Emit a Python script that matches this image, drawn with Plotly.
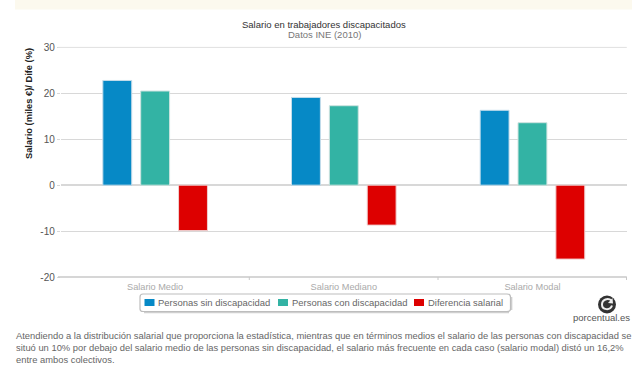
import plotly.graph_objects as go

categories = ["Salario Medio", "Salario Mediano", "Salario Modal"]
sin_discapacidad = [22.8, 19.1, 16.3]
con_discapacidad = [20.5, 17.3, 13.6]
diferencia = [-9.9, -8.7, -16.1]
y_ticks = [-20, -10, 0, 10, 20, 30]
y_tick_labels = ["-20", "-10", "0", "10", "20", "30"]
series_names = ["Personas sin discapacidad", "Personas con discapacidad", "Diferencia salarial"]
series_colors = ["#0689c6", "#33b3a4", "#dd0000"]
series_edges = ["#c4dcea", "#cde3df", "#f0cfcf"]

W, H = 640, 385
L, R, T, B = 60.8, 626.8, 47.4, 277
px = lambda v: v / W
py = lambda v: 1 - v / H
P = lambda x, y: f"{px(x)} {py(y)}"

fig = go.Figure()
for name, vals, col, edge in zip(series_names, [sin_discapacidad, con_discapacidad, diferencia],
                                 series_colors, series_edges):
    fig.add_bar(name=name, x=categories, y=vals, marker=dict(color=col, line=dict(color=edge, width=1)))

ann = []
def t(x, y, s, size=9, color="#555", xa="left", ya="middle", **k):
    ann.append(dict(x=px(x), y=py(y), xref="paper", yref="paper", text=s, showarrow=False,
                    xanchor=xa, yanchor=ya, font=dict(size=size, color=color), **k))

t(324, 24.5, "Salario en trabajadores discapacitados", 9.5, "#333", "center")
t(324, 34.5, "Datos INE (2010)", 9.5, "#777", "center")
t(29, 104, "<b>Salario (miles €)/ Dife (%)</b>", 9.3, "#222", "center", textangle=-90)
t(14, 335, "Atendiendo a la distribución salarial que proporciona la estadística, mientras que en términos medios el salario de las personas con discapacidad se", 9.4, "#666")
t(14, 347.5, "situó un 10% por debajo del salario medio de las personas sin discapacidad, el salario más frecuente en cada caso (salario modal) distó un 16,2%", 9.4, "#666")
t(14, 359.5, "entre ambos colectivos.", 9.4, "#666")
t(632, 317.5, "porcentual.es", 9.5, "#555", "right")

swatch_x = [144.5, 278, 414]
text_x = [156, 289.5, 425.5]
for n, tx in zip(series_names, text_x):
    t(tx, 302.5, n, 9.45, "#666")

shapes = [
    dict(type="rect", xref="paper", yref="paper", x0=px(15), x1=px(632), y0=py(0), y1=py(9.5),
         fillcolor="#fcf9ee", line_width=0, layer="below"),
    dict(type="line", xref="paper", yref="paper", x0=px(58), x1=px(R), y0=py(T), y1=py(T),
         line=dict(color="#e0e0e0", width=1)),
    dict(type="line", xref="paper", yref="paper", x0=px(144), x1=px(509), y0=py(312.6), y1=py(312.6),
         line=dict(color="#cfcfcf", width=1.5)),
    dict(type="line", xref="paper", yref="paper", x0=px(511.6), x1=px(511.6), y0=py(297), y1=py(310),
         line=dict(color="#cfcfcf", width=1.5)),
    dict(type="path", xref="paper", yref="paper",
         path=f"M {P(143,294)} H {px(507)} Q {P(510.5,294)} {P(510.5,297)} V {py(309)} Q {P(510.5,311.5)} {P(507,311.5)} H {px(143)} Q {P(140,311.5)} {P(140,309)} V {py(297)} Q {P(140,294)} {P(143,294)} Z",
         fillcolor="#ffffff", line=dict(color="#bdbdbd", width=1.2), layer="above"),
    dict(type="line", xref="paper", yref="paper", x0=px(58), x1=px(R), y0=py(B), y1=py(B),
         line=dict(color="#c8c8c8", width=1.5)),
    dict(type="circle", xref="paper", yref="paper", x0=px(598), x1=px(616), y0=py(295.5), y1=py(313.5),
         fillcolor="#333333", line_width=0),
    dict(type="path", xref="paper", yref="paper",
         path=f"M {P(611.5,300.5)} C {P(608,297.5)} {P(602,299.5)} {P(602,304.5)} C {P(602,310)} {P(610,311)} {P(612,305.5)}",
         line=dict(color="#eeeeee", width=2)),
    dict(type="path", xref="paper", yref="paper",
         path=f"M {P(612.5,298)} L {P(613,303.5)} L {P(608,303)} Z",
         fillcolor="#eeeeee", line_width=0),
]
shapes += [dict(type="line", xref="paper", yref="paper", x0=px(v), x1=px(v), y0=py(B), y1=py(B + 3),
                line=dict(color="#c8c8c8", width=1)) for v in (249.3, 438, 626.5)]
shapes += [dict(type="rect", xref="paper", yref="paper", x0=px(x), x1=px(x + 10), y0=py(299), y1=py(306),
                fillcolor=c, line_width=0) for x, c in zip(swatch_x, series_colors)]

fig.update_layout(
    width=W, height=H, autosize=False, showlegend=False,
    margin=dict(l=0, r=0, t=0, b=0, autoexpand=False),
    paper_bgcolor="#ffffff", plot_bgcolor="#ffffff",
    font=dict(family="Liberation Sans, Arial, sans-serif", size=10, color="#555"),
    barmode="group", bargap=0.398, bargroupgap=0.237,
    xaxis=dict(domain=[px(L), px(R)], showgrid=False, zeroline=False, showline=False,
               ticks="", tickfont=dict(size=9.2, color="#aaa"), anchor="y", ticklabelstandoff=3),
    yaxis=dict(domain=[py(B), py(T)], range=[-20, 30], tickvals=y_ticks, ticktext=y_tick_labels,
               gridcolor="#d8d8d8", gridwidth=1, zeroline=True, zerolinecolor="#d8d8d8",
               ticks="outside", ticklen=3, tickcolor="#d8d8d8", tickwidth=1,
               tickfont=dict(size=10, color="#555")),
    annotations=ann,
    shapes=shapes,
)
fig.write_html("out.html", post_script="document.body.style.margin='0';",
               config={"displayModeBar": False})
